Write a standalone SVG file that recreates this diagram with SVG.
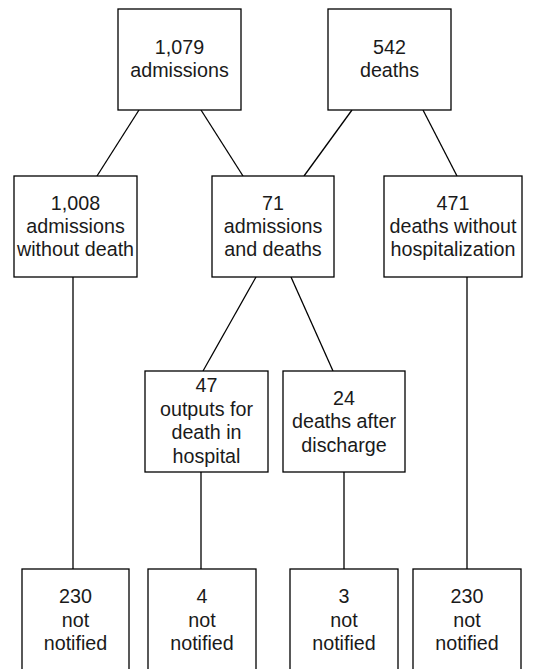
<svg xmlns="http://www.w3.org/2000/svg" width="551" height="669" viewBox="0 0 551 669">
<style>
rect{fill:#fff;stroke:#000;stroke-width:1.3}
line{stroke:#000;stroke-width:1.3}
text{font-family:"Liberation Sans",Arial,sans-serif;font-size:19.7px;fill:#1a1a1a;text-anchor:middle}
</style>
<rect x="0" y="0" width="551" height="669" style="stroke:none"/>
<g id="connectors">
<line x1="139" y1="110" x2="97" y2="176"/>
<line x1="201" y1="110" x2="243" y2="176"/>
<line x1="352" y1="110" x2="304" y2="176"/>
<line x1="423" y1="110" x2="457" y2="176"/>
<line x1="256" y1="277" x2="203" y2="371"/>
<line x1="291" y1="277" x2="333" y2="371"/>
<line x1="73" y1="277" x2="73" y2="569"/>
<line x1="467" y1="277" x2="467" y2="569"/>
<line x1="201" y1="472" x2="201" y2="569"/>
<line x1="344" y1="472" x2="344" y2="569"/>
</g>
<g id="n1"><rect x="118" y="9" width="123" height="101"/><text x="179.5" y="54">1,079</text><text x="179.5" y="77">admissions</text></g>
<g id="n2"><rect x="328" y="9" width="123" height="101"/><text x="389.5" y="54">542</text><text x="389.5" y="77">deaths</text></g>
<g id="n3"><rect x="14" y="176" width="123" height="101"/><text x="75.5" y="210">1,008</text><text x="75.5" y="233">admissions</text><text x="75.5" y="256">without death</text></g>
<g id="n4"><rect x="212" y="176" width="122" height="101"/><text x="273" y="210">71</text><text x="273" y="233">admissions</text><text x="273" y="256">and deaths</text></g>
<g id="n5"><rect x="384" y="176" width="138" height="101"/><text x="453" y="210">471</text><text x="453" y="233">deaths without</text><text x="453" y="256">hospitalization</text></g>
<g id="n6"><rect x="145" y="371" width="123" height="101"/><text x="206.5" y="392">47</text><text x="206.5" y="416">outputs for</text><text x="206.5" y="439">death in</text><text x="206.5" y="463">hospital</text></g>
<g id="n7"><rect x="283" y="371" width="122" height="101"/><text x="344" y="405">24</text><text x="344" y="428">deaths after</text><text x="344" y="452">discharge</text></g>
<g id="n8"><rect x="22" y="569" width="107" height="104"/><text x="75.5" y="603">230</text><text x="75.5" y="627">not</text><text x="75.5" y="650">notified</text></g>
<g id="n9"><rect x="148" y="569" width="108" height="104"/><text x="202" y="603">4</text><text x="202" y="627">not</text><text x="202" y="650">notified</text></g>
<g id="n10"><rect x="290" y="569" width="108" height="104"/><text x="344" y="603">3</text><text x="344" y="627">not</text><text x="344" y="650">notified</text></g>
<g id="n11"><rect x="413" y="569" width="108" height="104"/><text x="467" y="603">230</text><text x="467" y="627">not</text><text x="467" y="650">notified</text></g>
</svg>
